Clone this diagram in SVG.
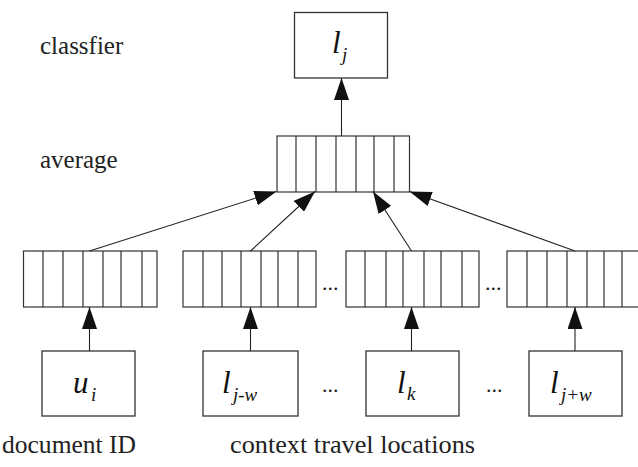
<svg xmlns="http://www.w3.org/2000/svg" width="638" height="467" viewBox="0 0 638 467">
  <style>
    .box { fill: #fff; stroke: #333; stroke-width: 1.3; }
    .cell { fill: none; stroke: #333; stroke-width: 1.2; }
    .conn { fill: none; stroke: #222; stroke-width: 1.1; }
    text { font-family: 'Liberation Serif', 'Times New Roman', Tinos, 'Nimbus Roman', FreeSerif, 'Noto Serif', 'DejaVu Serif', Times, serif; }
    .lbl { font-size: 25px; fill: #222; }
    .math { font-style: italic; fill: #111; }
    .dots { font-size: 22px; fill: #222; }
  </style>
  <defs>
    <marker id="arrow" markerUnits="userSpaceOnUse" markerWidth="22" markerHeight="15" viewBox="0 0 22 15" refX="22" refY="7.5" orient="auto">
      <path d="M0,0 L22,7.5 L0,15 Z" fill="#111"/>
    </marker>
  </defs>

  <!-- layer labels -->
  <g id="labels">
    <text class="lbl" x="40" y="54">classfier</text>
    <text class="lbl" x="40" y="168">average</text>
    <text class="lbl" x="2" y="453" textLength="134" lengthAdjust="spacingAndGlyphs">document ID</text>
    <text class="lbl" x="230" y="453" textLength="245" lengthAdjust="spacingAndGlyphs">context travel locations</text>
  </g>

  <!-- classifier output -->
  <g id="classifier">
    <rect class="box" x="294.5" y="12.5" width="93" height="65.5"/>
    <text class="math" x="332" y="53" font-size="31">l</text>
    <text class="math" x="342" y="61" font-size="19">j</text>
  </g>

  <!-- averaged vector -->
  <g id="average">
    <rect class="cell" x="277" y="136" width="132.5" height="56"/>
    <path class="cell" d="M296,136V192M316,136V192M336,136V192M356,136V192M374,136V192M394,136V192"/>
  </g>

  <!-- embedding vectors -->
  <g id="vec-doc">
    <rect class="cell" x="23.5" y="251" width="133.5" height="56"/>
    <path class="cell" d="M43,251V307M63,251V307M83,251V307M103,251V307M121,251V307M142,251V307"/>
  </g>
  <g id="vec-jw-minus">
    <rect class="cell" x="183" y="251" width="133" height="56"/>
    <path class="cell" d="M203,251V307M222,251V307M241,251V307M261,251V307M278,251V307M298,251V307"/>
  </g>
  <g id="vec-k">
    <rect class="cell" x="346" y="251" width="133" height="56"/>
    <path class="cell" d="M365,251V307M386,251V307M403,251V307M424,251V307M441,251V307M462,251V307"/>
  </g>
  <g id="vec-jw-plus">
    <rect class="cell" x="507" y="251" width="135" height="56"/>
    <path class="cell" d="M527,251V307M547,251V307M567,251V307M587,251V307M604,251V307M622,251V307"/>
  </g>

  <!-- input tokens -->
  <g id="input-u">
    <rect class="box" x="42" y="351" width="93" height="65"/>
    <text class="math" x="73" y="393" font-size="31">u</text>
    <text class="math" x="91" y="401" font-size="19">i</text>
  </g>
  <g id="input-l-jw-minus">
    <rect class="box" x="203" y="351" width="95" height="65"/>
    <text class="math" x="222" y="393" font-size="31">l</text>
    <text class="math" x="233" y="401" font-size="19">j-w</text>
  </g>
  <g id="input-l-k">
    <rect class="box" x="366" y="351" width="93" height="65"/>
    <text class="math" x="397" y="393" font-size="31">l</text>
    <text class="math" x="407" y="400" font-size="19">k</text>
  </g>
  <g id="input-l-jw-plus">
    <rect class="box" x="529" y="351" width="93" height="65"/>
    <text class="math" x="550" y="393" font-size="31">l</text>
    <text class="math" x="561" y="401" font-size="19">j+w</text>
  </g>

  <!-- ellipses between elements -->
  <g id="ellipses">
    <text class="dots" x="322" y="290">...</text>
    <text class="dots" x="485" y="290">...</text>
    <text class="dots" x="322" y="392">...</text>
    <text class="dots" x="486" y="392">...</text>
  </g>

  <!-- connectors -->
  <g id="connectors">
    <line class="conn" x1="341.5" y1="136" x2="341.5" y2="78" marker-end="url(#arrow)"/>
    <line class="conn" x1="89.5" y1="251" x2="276.5" y2="191.5" marker-end="url(#arrow)"/>
    <line class="conn" x1="250.5" y1="251" x2="315" y2="191.5" marker-end="url(#arrow)"/>
    <line class="conn" x1="411.5" y1="251" x2="373" y2="191.5" marker-end="url(#arrow)"/>
    <line class="conn" x1="575" y1="251" x2="409.5" y2="191.5" marker-end="url(#arrow)"/>
    <line class="conn" x1="89.5" y1="351" x2="89.5" y2="307" marker-end="url(#arrow)"/>
    <line class="conn" x1="250.5" y1="351" x2="250.5" y2="307" marker-end="url(#arrow)"/>
    <line class="conn" x1="411.5" y1="351" x2="411.5" y2="307" marker-end="url(#arrow)"/>
    <line class="conn" x1="575" y1="351" x2="575" y2="307" marker-end="url(#arrow)"/>
  </g>
</svg>
